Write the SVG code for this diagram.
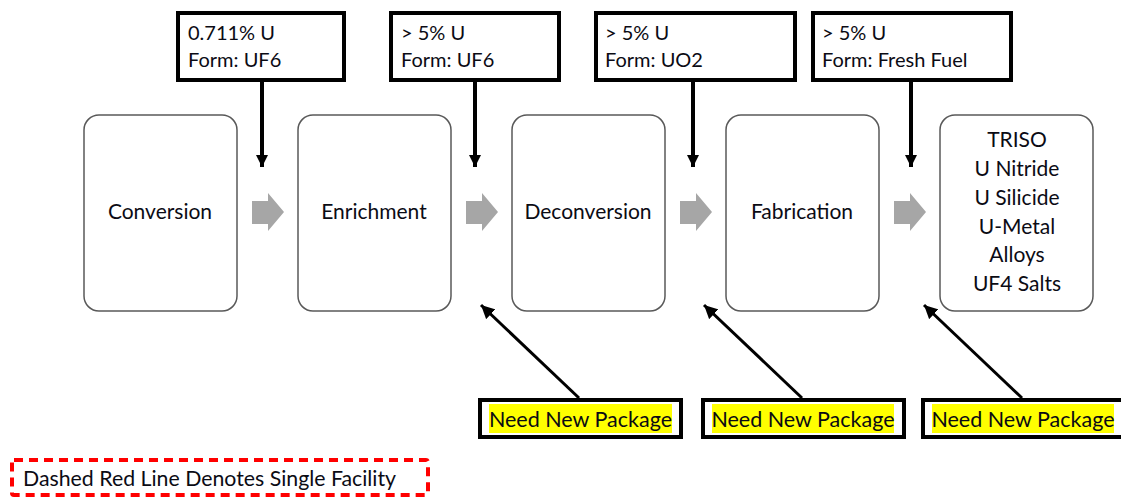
<svg xmlns="http://www.w3.org/2000/svg" width="1121" height="500" viewBox="0 0 1121 500">
  <defs>
    <style>
      .txt { font-family: Lato, "Open Sans", "Liberation Sans", sans-serif; fill: #0b0b14; }
      .info { fill: #ffffff; stroke: #000000; stroke-width: 4; }
      .info-t { font-size: 20px; }
      .stage { fill: #ffffff; stroke: #595959; stroke-width: 1.5; }
      .stage-t { font-size: 21px; text-anchor: middle; }
      .flow { fill: #a6a6a6; }
      .feed { stroke: #000000; stroke-width: 4; fill: none; }
      .pkg-line { stroke: #000000; stroke-width: 3; fill: none; }
      .pkg { fill: #ffffff; stroke: #000000; stroke-width: 4; }
      .hl { fill: #ffff00; }
      .pkg-t { font-size: 21.5px; }
      .legend { fill: none; stroke: #ff0000; stroke-width: 4; stroke-dasharray: 9 6; }
    </style>
    <marker id="headDown" markerWidth="3" markerHeight="3" refX="3" refY="1.5" orient="auto" markerUnits="strokeWidth">
      <path d="M0,0 L3,1.5 L0,3 Z" fill="#000"/>
    </marker>
    <marker id="headPkg" markerWidth="4.5" markerHeight="4.5" refX="4.5" refY="2.25" orient="auto" markerUnits="strokeWidth">
      <path d="M0,0 L4.5,2.25 L0,4.5 Z" fill="#000"/>
    </marker>
  </defs>

  <!-- material specification callouts -->
  <g id="spec-conversion">
    <rect class="info" x="178" y="13" width="166" height="67"/>
    <text class="txt info-t" x="188" y="40">0.711% U</text>
    <text class="txt info-t" x="188" y="67">Form: UF6</text>
  </g>
  <g id="spec-enrichment">
    <rect class="info" x="391" y="13" width="168" height="67"/>
    <text class="txt info-t" x="401" y="40">&gt; 5% U</text>
    <text class="txt info-t" x="401" y="67">Form: UF6</text>
  </g>
  <g id="spec-deconversion">
    <rect class="info" x="596" y="13" width="199" height="67"/>
    <text class="txt info-t" x="605" y="40">&gt; 5% U</text>
    <text class="txt info-t" x="605" y="67">Form: UO2</text>
  </g>
  <g id="spec-fabrication">
    <rect class="info" x="813" y="13" width="198" height="67"/>
    <text class="txt info-t" x="822" y="40">&gt; 5% U</text>
    <text class="txt info-t" x="822" y="67">Form: Fresh Fuel</text>
  </g>

  <!-- process stages -->
  <g id="stage-conversion">
    <rect class="stage" x="84" y="115" width="153" height="196" rx="15"/>
    <text class="txt stage-t" x="160" y="219">Conversion</text>
  </g>
  <g id="stage-enrichment">
    <rect class="stage" x="298" y="115" width="153" height="196" rx="15"/>
    <text class="txt stage-t" x="374" y="219">Enrichment</text>
  </g>
  <g id="stage-deconversion">
    <rect class="stage" x="512" y="115" width="153" height="196" rx="15"/>
    <text class="txt stage-t" x="588" y="219">Deconversion</text>
  </g>
  <g id="stage-fabrication">
    <rect class="stage" x="726" y="115" width="153" height="196" rx="15"/>
    <text class="txt stage-t" x="802" y="219">Fabrication</text>
  </g>
  <g id="stage-fuel-forms">
    <rect class="stage" x="940" y="115" width="153" height="196" rx="15"/>
    <text class="txt stage-t" x="1017" y="147">TRISO</text>
    <text class="txt stage-t" x="1017" y="176">U Nitride</text>
    <text class="txt stage-t" x="1017" y="205">U Silicide</text>
    <text class="txt stage-t" x="1017" y="234">U-Metal</text>
    <text class="txt stage-t" x="1017" y="262">Alloys</text>
    <text class="txt stage-t" x="1017" y="291">UF4 Salts</text>
  </g>

  <!-- package callouts -->
  <g id="pkg-deconversion">
    <rect class="pkg" x="480" y="400" width="201" height="37"/>
    <rect class="hl" x="489" y="404" width="183" height="29"/>
    <text class="txt pkg-t" x="580.5" y="427" text-anchor="middle">Need New Package</text>
  </g>
  <g id="pkg-fabrication">
    <rect class="pkg" x="703" y="400" width="201" height="37"/>
    <rect class="hl" x="712" y="404" width="182" height="29"/>
    <text class="txt pkg-t" x="803" y="427" text-anchor="middle">Need New Package</text>
  </g>
  <g id="pkg-fuel">
    <rect class="pkg" x="923" y="400" width="200" height="37"/>
    <rect class="hl" x="932" y="404" width="182" height="29"/>
    <text class="txt pkg-t" x="1023" y="427" text-anchor="middle">Need New Package</text>
  </g>

  <!-- legend -->
  <g id="legend">
    <rect class="legend" x="12" y="460" width="416" height="35" rx="2"/>
    <text class="txt" x="23" y="486" font-size="21.3">Dashed Red Line Denotes Single Facility</text>
  </g>

  <!-- connectors -->
  <g id="connectors">
    <!-- stage-to-stage block arrows -->
    <path class="flow" d="M252,201 H268 V193 L284,212 L268,231 V224 H252 Z"/>
    <path class="flow" d="M466,201 H482 V193 L498,212 L482,231 V224 H466 Z"/>
    <path class="flow" d="M680,201 H696 V193 L712,212 L696,231 V224 H680 Z"/>
    <path class="flow" d="M894,201 H910 V193 L926,212 L910,231 V224 H894 Z"/>
    <!-- spec feeds -->
    <line class="feed" x1="262" y1="82" x2="262" y2="167" marker-end="url(#headDown)"/>
    <line class="feed" x1="475" y1="82" x2="475" y2="167" marker-end="url(#headDown)"/>
    <line class="feed" x1="693" y1="82" x2="693" y2="167" marker-end="url(#headDown)"/>
    <line class="feed" x1="911" y1="82" x2="911" y2="167" marker-end="url(#headDown)"/>
    <!-- package pointers -->
    <line class="pkg-line" x1="579" y1="398" x2="481" y2="305" marker-end="url(#headPkg)"/>
    <line class="pkg-line" x1="802" y1="398" x2="704" y2="305" marker-end="url(#headPkg)"/>
    <line class="pkg-line" x1="1022" y1="398" x2="924" y2="305" marker-end="url(#headPkg)"/>
  </g>
</svg>
